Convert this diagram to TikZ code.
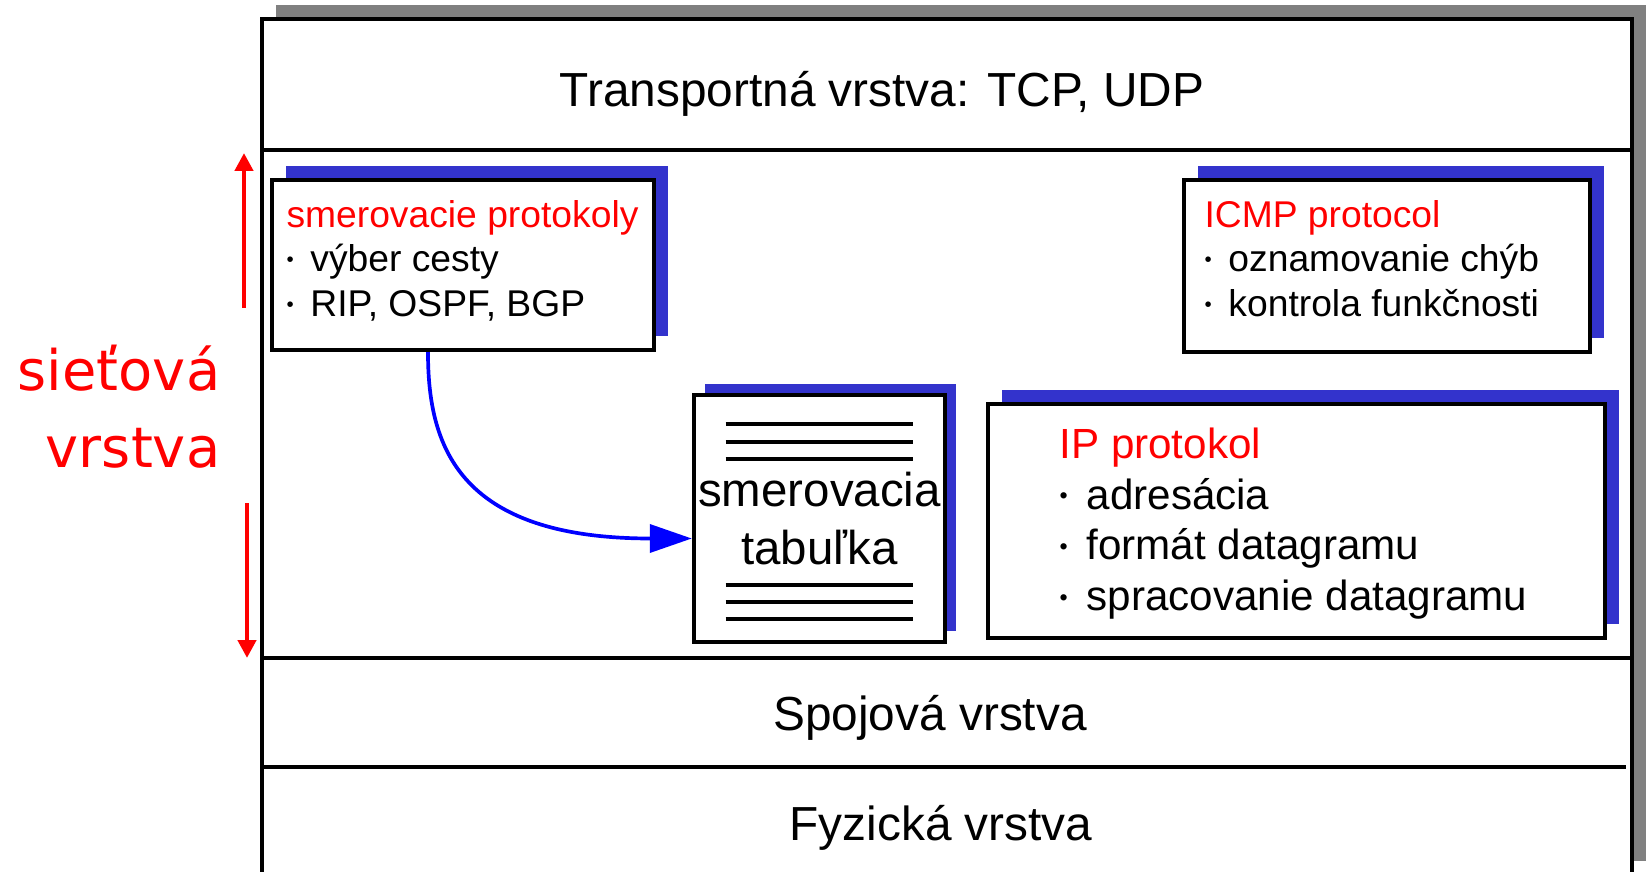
\documentclass[tikz,border=0pt]{standalone}
\usepackage{fontspec}
\setmainfont{Liberation Sans}
\newfontfamily\sidefont{DejaVu Sans}
\usetikzlibrary{positioning,shadows,arrows.meta}

\definecolor{shadowblue}{RGB}{51,51,204}
\definecolor{framegray}{RGB}{128,128,128}

% small raised bullet for the list items
\newcommand{\bul}{\raisebox{0.13em}{\scalebox{0.55}{\textbullet}}\hspace{0.45em}}

\tikzset{
  card/.style={draw, line width=1.25pt, fill=white, inner sep=0pt,
    drop shadow={shadow xshift=#1, shadow yshift=#1, fill=shadowblue, opacity=1}},
  card/.default=0.14cm,
  layer/.style={font=\fontsize{13.6}{16}\selectfont, anchor=base},
  note/.style={inner sep=0pt, align=left},
  divider/.style={line width=1pt},
  tablerule/.style={line width=0.95pt},
  span/.style={red, line width=1.25pt, -{Triangle[length=0.18cm, width=0.18cm]}},
  route/.style={blue, line width=1.05pt, -{Triangle[length=0.42cm, width=0.28cm]}}
}

\begin{document}
\begin{tikzpicture}
    \useasboundingbox (0,0) rectangle (16.47,8.71);

    % Protocol stack frame with its gray shadow
    \fill[framegray] (2.76,0.10) rectangle (16.46,8.66);
    \draw[line width=1.1pt, fill=white] (2.62,-0.04) rectangle (16.32,8.52);

    % Layer borders
    \draw[divider] (2.62,7.21) -- (16.32,7.21);
    \draw[divider] (2.62,2.13) -- (16.32,2.13);
    \draw[divider] (2.62,1.04) -- (16.26,1.04);

    % Layer names
    \node[layer] (transport) at (8.82,7.64) {Transportná vrstva: TCP, UDP};
    \node[layer] (link) at (9.30,1.41) {Spojová vrstva};
    \node[layer] (phys) at (9.41,0.31) {Fyzická vrstva};

    % Network layer label and its extent
    \node[inner sep=0pt, anchor=east, align=right, text=red,
          font=\sidefont\fontsize{15.9}{21.9}\selectfont] (net) at (2.21,4.64) {sieťová\\vrstva};
    \coordinate (upStart) at (2.44,5.63);
    \coordinate (netTop) at (2.44,7.18);
    \coordinate (downStart) at (2.47,3.68);
    \coordinate (netBottom) at (2.47,2.13);
    \draw[span] (upStart) -- (netTop);
    \draw[span] (downStart) -- (netBottom);

    % Routing protocols
    \node[card, minimum width=3.82cm, minimum height=1.70cm] (proto) at (4.63,6.06) {};
    \node[note, below right=0.22cm and 0.16cm of proto.north west,
          font=\fontsize{10.6}{12.6}\selectfont] (protoText)
        {\textcolor{red}{smerovacie protokoly}\\\bul výber cesty\\\bul RIP, OSPF, BGP};

    % ICMP
    \node[card, minimum width=4.06cm, minimum height=1.72cm] (icmp) at (13.87,6.05) {};
    \node[note, below right=0.22cm and 0.22cm of icmp.north west,
          font=\fontsize{10.6}{12.6}\selectfont] (icmpText)
        {\textcolor{red}{ICMP protocol}\\\bul oznamovanie chýb\\\bul kontrola funkčnosti};

    % Routing table
    \node[card=0.11cm, minimum width=2.51cm, minimum height=2.47cm, align=center,
          font=\fontsize{13.5}{16.5}\selectfont] (table) at (8.195,3.525) {smerovacia\\tabuľka};
    \foreach \dy in {0.945,0.765,0.595,-0.665,-0.835,-1.005}
        \draw[tablerule] ([shift={(-0.94,\dy)}]table.center) -- ++(1.87,0);

    % IP
    \node[card, minimum width=6.17cm, minimum height=2.34cm] (ip) at (12.965,3.50) {};
    \node[note, below right=0.25cm and 0.73cm of ip.north west,
          font=\fontsize{12}{14.5}\selectfont] (ipText)
        {\textcolor{red}{IP protokol}\\\bul adresácia\\\bul formát datagramu\\\bul spracovanie datagramu};

    % Routing protocols fill the table
    \draw[route] ([xshift=-0.35cm]proto.south) to[out=-90, in=180, out distance=0.9cm, in distance=2.37cm] ([yshift=-0.2cm]table.west);
\end{tikzpicture}
\end{document}
